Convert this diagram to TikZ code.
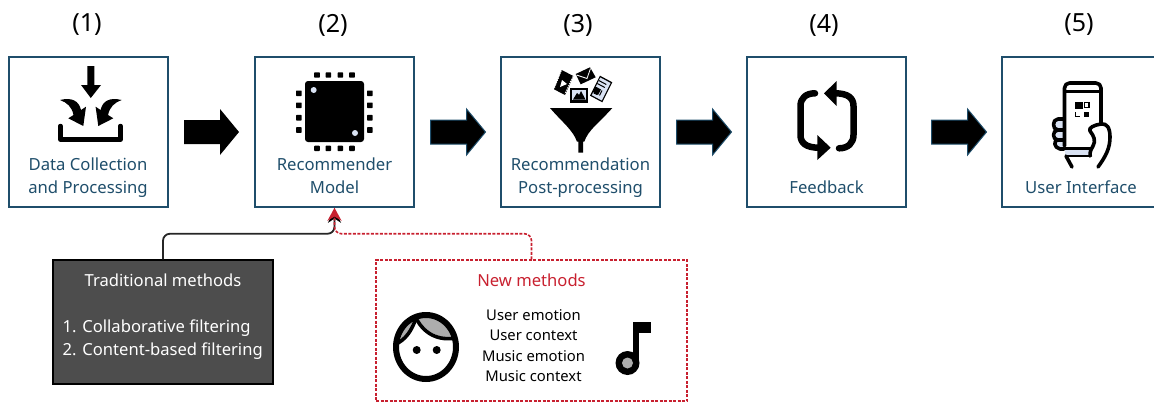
\documentclass[tikz,border=0pt]{standalone}
\usepackage{fontspec}
\setmainfont{Noto Sans}
\usetikzlibrary{arrows.meta,calc}
\definecolor{teal1}{HTML}{1F4E6B}
\definecolor{red1}{HTML}{C8202F}
\definecolor{gray1}{HTML}{4D4D4D}
\definecolor{pale}{HTML}{D9E2F3}
\definecolor{hair}{HTML}{ADADAD}
\tikzset{
 stage/.style={draw=teal1,line width=1.5pt,minimum width=159pt,minimum height=150pt,inner sep=0pt},
 stagetxt/.style={text=teal1,font=\fontsize{16.7}{18}\selectfont,inner sep=0pt,anchor=base},
 num/.style={font=\fontsize{25}{28}\selectfont,inner sep=0pt},
 bigarrow/.style={fill=black,line width=1pt,line join=miter},
 tradbox/.style={draw=black,fill=gray1,line width=1.5pt,minimum width=220pt,minimum height=124pt,inner sep=0pt},
 newbox/.style={draw=red1,dash pattern=on 3pt off 1.5pt,line width=1.5pt,minimum width=311pt,minimum height=141pt,inner sep=0pt},
 tradtxt/.style={text=white,font=\fontsize{16.6}{18}\selectfont,inner sep=0pt,anchor=base},
 listtxt/.style={font=\fontsize{14.8}{17}\selectfont,inner sep=0pt,anchor=base},
 iconline/.style={draw=black,line cap=round,line join=round},
}
\newcommand{\bigarr}[2]{\path[bigarrow,#2] (#1,120) -- ++(36,0) -- ++(0,-11) -- ++(19,23) -- ++(-19,23) -- ++(0,-11) -- ++(-36,0) -- cycle;}
\begin{document}
\begin{tikzpicture}[x=1pt,y=-1pt]
\useasboundingbox (0,0) rectangle (1154,402);
\clip (0,0) rectangle (1154,402);
% stages
\node[stage] (s1) at (88.5,132) {};
\node[stage] (s2) at (334.5,132) {};
\node[stage] (s3) at (580.5,132) {};
\node[stage] (s4) at (826.5,132) {};
\node[stage] (s5) at (1081.5,132) {};
% numbers
\node[num] (n1) at (87,25) {(1)};
\node[num] (n2) at (333,25) {(2)};
\node[num] (n3) at (578,25) {(3)};
\node[num] (n4) at (824,25) {(4)};
\node[num] (n5) at (1079,25) {(5)};
% labels
\node[stagetxt] (t1a) at (88,170.7) {Data Collection};
\node[stagetxt] (t1b) at (88,193.3) {and Processing};
\node[stagetxt] (t2a) at (334.5,170.7) {Recommender};
\node[stagetxt] (t2b) at (334.5,193.3) {Model};
\node[stagetxt] (t3a) at (580.5,170.7) {Recommendation};
\node[stagetxt] (t3b) at (580.5,193.3) {Post-processing};
\node[stagetxt] (t4) at (826.5,193.3) {Feedback};
\node[stagetxt] (t5) at (1081,193.3) {User Interface};
% big arrows
\bigarr{184}{}
\bigarr{430.5}{draw=teal1}
\bigarr{676.5}{draw=teal1}
\bigarr{931.5}{draw=teal1}
% icon 1: inbox
\fill (87.3,66) -- (94.3,66) -- (94.3,85) -- (101,85) -- (90.8,98) -- (81,85) -- (87.3,85) -- cycle;
\fill (60,100) .. controls (72,97) and (79,101) .. (81,110) -- (86,106.7) -- (83.3,126) -- (68.3,118.3) -- (73.5,115) .. controls (72,107) and (67,102.5) .. (60,100) -- cycle;
\fill (121.6,100) .. controls (109.6,97) and (102.6,101) .. (100.6,110) -- (95.6,106.7) -- (98.3,126) -- (113.3,118.3) -- (108.1,115) .. controls (109.6,107) and (114.6,102.5) .. (121.6,100) -- cycle;
\draw[iconline,line width=4.5pt] (60.5,126) -- (60.5,139.5) -- (120.5,139.5) -- (120.5,126);
% icon 2: chip
\fill[rounded corners=3pt] (305,81) rectangle (364,142);
\fill[pale] (313.7,90) circle (3pt) (355,133) circle (3pt);
\foreach \c in {317,328.3,340.3,352}{
 \fill[rounded corners=.7pt] (\c-2.8,72.3) rectangle (\c+2.8,77.7);
 \fill[rounded corners=.7pt] (\c-2.8,145.7) rectangle (\c+2.8,151);
}
\foreach \c in {93.3,105.3,117.7,130}{
 \fill[rounded corners=.7pt] (296,\c-2.8) rectangle (301.7,\c+2.8);
 \fill[rounded corners=.7pt] (367,\c-2.8) rectangle (372.7,\c+2.8);
}
% icon 3: funnel
\fill (550,108) -- (612.3,108) .. controls (600,122) and (588,130) .. (584.3,141.7) -- (583,141.7) -- (583,152.7) -- (578.3,152.7) -- (578.3,141.7) -- (577,141.7) .. controls (573,130) and (562,122) .. (550,108) -- cycle;
% film
\fill (561.7,70) -- (573.3,76) -- (565,95) -- (554,89.3) -- cycle;
\draw[white,line width=.7pt,dash pattern=on 1.2pt off 1.2pt] (561.3,71) -- (554.3,88.5) (572.8,76.5) -- (564.7,94);
\fill[white] (562,80) -- (567,84) -- (560,87) -- cycle;
% envelope
\fill (575.7,74) -- (590,67.3) -- (595.7,77.3) -- (580.7,84.3) -- cycle;
\draw[white,line width=.8pt] (576.5,75) -- (587,78.5) -- (590.5,68.5);
% picture
\fill (570,87.7) rectangle (588.3,103.3);
\fill[pale] (572,90) rectangle (586.3,100.3);
\fill (573,99.5) -- (577,93) -- (579,95) -- (581,91) -- (585.5,99.5) -- cycle;
% newspaper
\fill (600,75.7) -- (612.3,82.3) -- (602.3,102.3) -- (590,95.7) -- cycle;
\fill[pale] (600.3,77.5) -- (610.5,83) -- (601.8,100.5) -- (591.8,95.2) -- cycle;
\draw[line width=1pt] (598.8,80.5) -- (606.3,84.5) (597.3,83.5) -- (604.8,87.5) (593.8,93) -- (597,94.5) (602,90.5)--(599.5,95.5);
\fill (595.5,86.5) -- (601,89.5) -- (598,95) -- (592.8,92) -- cycle;
% icon 4: cycle
\draw[iconline,line width=6.5pt] (815,93.3) .. controls (806,93.3) and (800.5,98) .. (800.5,106) -- (800.5,135) .. controls (800.5,143) and (806,147.7) .. (819,147.7);
\fill (817.3,135) -- (830.7,147.7) -- (817.3,160) -- cycle;
\draw[iconline,line width=6.5pt] (839,148.3) .. controls (848,148.3) and (853.5,143) .. (853.5,135) -- (853.5,106) .. controls (853.5,98) and (848,93.3) .. (835,93.3);
\fill (836.7,81) -- (824,93.3) -- (836.7,106) -- cycle;
% icon 5: phone
\fill[pale] (1065,149) rectangle (1092,155);
\fill[pale] (1056,120) rectangle (1063,147);
\draw[iconline,line width=3.6pt,rounded corners=5pt] (1064.5,146) -- (1064.5,83) -- (1101,83) -- (1101,124);
\draw[iconline,line width=2.6pt] (1064.5,91.7) -- (1101,91.7);
\draw[iconline,line width=2.6pt] (1065,148.5) -- (1092,148.5) (1066,156) -- (1091,156);
\fill (1075,101.7) rectangle (1082.7,109.3);
\draw[line width=1.5pt] (1084.5,102.3) rectangle (1089,107.7);
\draw[line width=1.3pt] (1075.5,112) -- (1075.5,116.5) -- (1080,116.5);
\fill (1084,111.7) rectangle (1088.6,116.7);
\draw[iconline,line width=3.6pt] (1063,119) -- (1058,119) .. controls (1052,119) and (1052,130) .. (1058,130) -- (1063,130);
\draw[iconline,line width=3.6pt] (1058,130) .. controls (1052,130) and (1052,140) .. (1058,140) -- (1063,140);
\draw[iconline,line width=3.6pt] (1058,140) .. controls (1053,140) and (1054,148) .. (1060,149) -- (1064,149);
\draw[iconline,line width=3.6pt] (1066,156) -- (1072,167);
\draw[iconline,line width=3.6pt] (1098,167) .. controls (1106,156) and (1110,148) .. (1110,137) .. controls (1110,128) and (1107,123) .. (1101,124) .. controls (1094,125) and (1088,128) .. (1090,131) .. controls (1094,136) and (1096,141) .. (1093,146) .. controls (1091,149) and (1090,151) .. (1090,156);
% lower boxes
\node[tradbox] (trad) at (163,322) {};
\node[newbox] (new) at (531.5,330.5) {};
\coordinate (join) at ($(s2.south)+(0,26)$);
\coordinate (blackend) at ($(s2.south)+(0,2)$);
\draw[draw=black!85,line width=1.8pt,rounded corners=7pt,-{Stealth[length=13pt,width=13pt,black]}] (trad.north) |- (join) -- (blackend);
\draw[draw=red1,line width=1.6pt,dash pattern=on 3pt off 1.5pt,rounded corners=7pt,-{Stealth[length=13pt,width=14pt,red1]}] (new.north) |- (join) -- (s2.south);
% lower text
\node[tradtxt] (tt) at (163,286.7) {Traditional methods};
\node[tradtxt,anchor=base west] (t1) at (62.5,332.7) {1. Collaborative filtering};
\node[tradtxt,anchor=base west] (t2) at (62.5,355.3) {2. Content-based filtering};
\node[tradtxt,text=red1] (nt) at (531.5,286.7) {New methods};
\node[listtxt] (l1) at (533.5,320) {User emotion};
\node[listtxt] (l2) at (533.5,340.3) {User context};
\node[listtxt] (l3) at (533.5,361) {Music emotion};
\node[listtxt] (l4) at (533.5,381) {Music context};
% face
\begin{scope}
\clip (426,347) ellipse (31pt and 33pt);
\fill[hair] (415,314) -- (460,314) -- (460,337) .. controls (445,340) and (428,335) .. (419,320) -- cycle;
\fill[hair] (395,345) -- (400,320) -- (413,320) .. controls (410,330) and (407,338) .. (398,343) -- cycle;
\draw[line width=3.6pt] (416,318) .. controls (412,330) and (406,340) .. (394,345);
\draw[line width=3.6pt] (416,318) .. controls (425,336) and (442,342) .. (460,337);
\end{scope}
\draw[line width=6pt] (426,347) ellipse (30pt and 32pt);
\fill (416.7,350) circle (4pt) (436.7,350) circle (4pt);
% note
\fill (633.3,321.7) rectangle (650.7,332.7);
\fill (633.3,321.7) rectangle (639.3,362);
\fill (627.5,363) circle (12pt);
\fill[hair] (627.5,363) circle (5.5pt);
\end{tikzpicture}
\end{document}
